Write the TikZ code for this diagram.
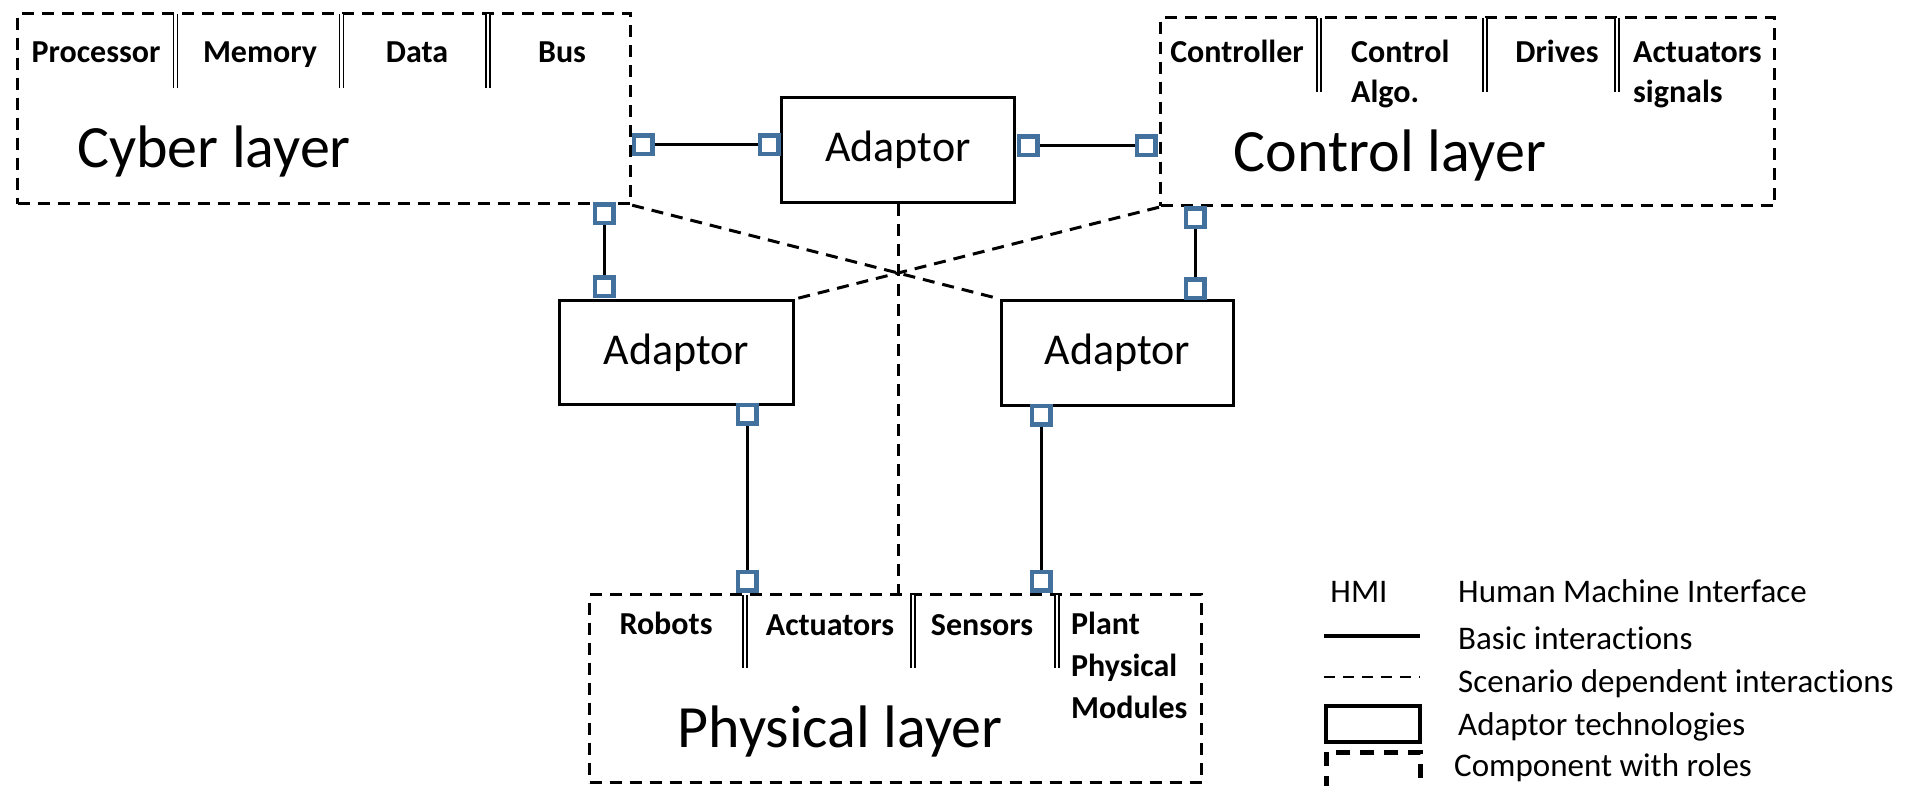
\documentclass[tikz,border=0pt]{standalone}
\usepackage{fontspec}
\setmainfont{Carlito}[Ligatures=NoCommon]
\definecolor{sqblue}{RGB}{65,113,156}
\begin{document}
\begin{tikzpicture}[x=1pt,y=-1pt,
  layerbox/.style={draw, line width=3.2pt, dash pattern=on 12pt off 8pt, inner sep=0pt, anchor=north west},
  adaptbox/.style={draw, line width=3pt, inner sep=0pt, anchor=north west, font=\fontsize{44}{50}\selectfont},
  port/.style={draw=sqblue, line width=4.5pt, minimum size=18.5pt, inner sep=0pt, fill=white},
  link/.style={line width=3pt},
  scen/.style={line width=3pt, dash pattern=on 12pt off 8pt},
  role/.style={font=\bfseries\fontsize{32}{40}\selectfont, inner sep=0pt, anchor=base},
  rolel/.style={role, anchor=base west},
  big/.style={font=\fontsize{60}{70}\selectfont, inner sep=0pt, anchor=base},
  leg/.style={font=\fontsize{33}{40}\selectfont, inner sep=0pt, anchor=base west},
  sep/.style={double, double distance=2.5pt, line width=1.4pt},
]
\useasboundingbox (0,0) rectangle (1909,786);

% layers
\node[layerbox, minimum width=613pt, minimum height=190pt] (cyber) at (16,12) {};
\node[layerbox, minimum width=614pt, minimum height=188pt] (control) at (1159,16) {};
\node[layerbox, minimum width=612pt, minimum height=188pt] (physical) at (588,593) {};

% adaptors
\node[adaptbox, minimum width=233pt, minimum height=105pt] (adC) at (780,96) {Adaptor};
\node[adaptbox, minimum width=234pt, minimum height=104pt] (adL) at (558,299) {Adaptor};
\node[adaptbox, minimum width=232pt, minimum height=105pt] (adR) at (1000,299) {Adaptor};

% cyber roles
\node[role] (tproc) at (96,63) {Processor};
\node[role] (tmem) at (260,63) {Memory};
\node[role] (tdata) at (417,63) {Data};
\node[role] (tbus) at (562,63) {Bus};
\draw[sep] (175.5,14) -- (175.5,88);
\draw[sep] (341.5,14) -- (341.5,88);
\draw[sep] (488,14) -- (488,88);
\node[big] (tcyber) at (214,168) {Cyber layer};

% control roles
\node[role] (tctrl) at (1237,63) {Controller};
\node[rolel] (talg1) at (1351,63) {Control};
\node[rolel] (talg2) at (1351,103) {Algo.};
\node[role] (tdrv) at (1557,63) {Drives};
\node[rolel] (tact1) at (1633,63) {Actuators};
\node[rolel] (tact2) at (1633,103) {signals};
\draw[sep] (1319,18) -- (1319,92);
\draw[sep] (1485,18) -- (1485,92);
\draw[sep] (1617,18) -- (1617,92);
\node[big] (tcontrol) at (1390,172) {Control layer};

% physical roles
\node[role] (trob) at (666,634) {Robots};
\node[role] (tpact) at (830,635) {Actuators};
\node[role] (tsens) at (982,635) {Sensors};
\node[rolel] (tpl1) at (1071,634) {Plant};
\node[rolel] (tpl2) at (1071,676) {Physical};
\node[rolel] (tpl3) at (1071,718) {Modules};
\draw[sep] (745,595) -- (745,668);
\draw[sep] (913,595) -- (913,668);
\draw[sep] (1057,595) -- (1057,668);
\node[big] (tphys) at (840,747) {Physical layer};

% scenario dependent interactions
\draw[scen] (cyber.south east) -- (adR.north west);
\draw[scen] (control.south west) -- (adL.north east);
\draw[scen] (adC.south) -- (adC.south |- physical.north);

% ports
\node[port] (p1) at (643,145) {};
\node[port] (p2) at (769,145) {};
\node[port] (p3) at (1028,146) {};
\node[port] (p4) at (1146,146) {};
\node[port] (p5) at (604,214) {};
\node[port] (p6) at (604,287) {};
\node[port] (p7) at (1195,218) {};
\node[port] (p8) at (1195,289) {};
\node[port] (p9) at (747,414) {};
\node[port] (p10) at (747,581) {};
\node[port] (p11) at (1041,415) {};
\node[port] (p12) at (1041,581) {};

% basic interactions
\draw[link] (p1.east) -- (p2.west);
\draw[link] (p3.east) -- (p4.west);
\draw[link] (p5.south) -- (p6.north);
\draw[link] (p7.south) -- (p8.north);
\draw[link] (p9.south) -- (p10.north);
\draw[link] (p11.south) -- (p12.north);

% legend
\node[leg, anchor=base] (lhmi) at (1359,602) {HMI};
\node[leg] (lhmit) at (1458,602) {Human Machine Interface};
\draw[line width=4pt] (1324,636) -- (1420,636);
\node[leg] (lbasic) at (1458,649) {Basic interactions};
\draw[line width=2pt, dash pattern=on 11pt off 8pt] (1324,677) -- (1420,677);
\node[leg] (lscen) at (1458,692) {Scenario dependent interactions};
\draw[line width=4pt] (1326,706) rectangle (1420,742);
\node[leg] (ladapt) at (1458,735) {Adaptor technologies};
\draw[line width=5pt, dash pattern=on 14pt off 10pt] (1326,752) rectangle (1420,790);
\node[leg] (lcomp) at (1454,776) {Component with roles};
\end{tikzpicture}
\end{document}
